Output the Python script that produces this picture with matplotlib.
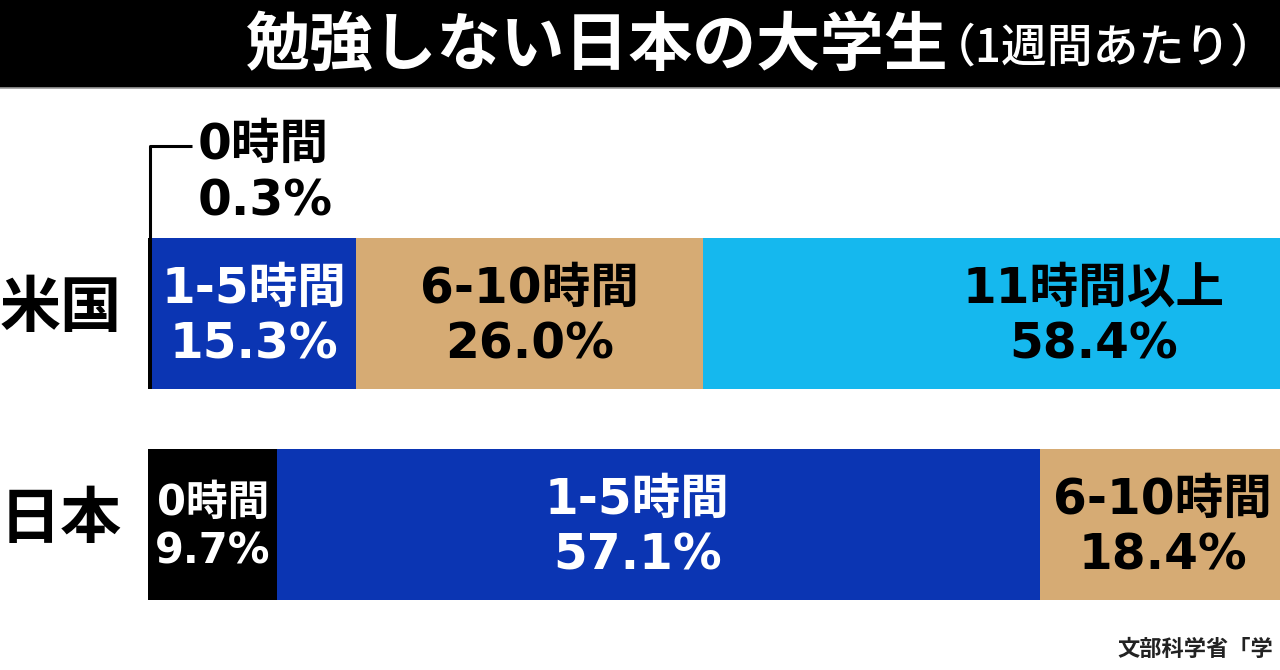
import matplotlib
matplotlib.use("Agg")
import matplotlib.pyplot as plt
from matplotlib.patches import Rectangle
import matplotlib.transforms as mtransforms

plt.rcParams['font.family'] = ['Noto Sans CJK JP', 'DejaVu Sans']
LABEL_FONT = ['DejaVu Sans', 'Noto Sans CJK JP']

# ---- data ----
countries = ["米国", "日本"]
categories = ["0時間", "1-5時間", "6-10時間", "11時間以上"]
us_values = [0.3, 15.3, 26.0, 58.4]
jp_values = [9.7, 57.1, 18.4, 14.8]
title_main = "勉強しない日本の大学生"
title_sub = "（1週間あたり）"
source = "文部科学省「学"

colors = ["#000000", "#0b35b3", "#d6ab74", "#15b8ee"]
text_colors = ["white", "white", "black", "black"]

W, H = 1280, 670
fig = plt.figure(figsize=(W / 100, H / 100), dpi=100)
fig.patch.set_facecolor("white")

# title bar
title_h = 88
fig.patches.append(Rectangle((0, 1 - title_h / H), 1, title_h / H,
                             transform=fig.transFigure, facecolor="black",
                             edgecolor="none", zorder=0))
fig.add_artist(plt.Line2D([0, 1], [1 - title_h / H] * 2, transform=fig.transFigure,
                          color="#9a9a9a", lw=1.2))
fig.text(246 / W, 1 - 46 / H, title_main, color="white", fontsize=46,
         fontweight="bold", ha="left", va="center")
fig.text(930 / W, 1 - 48 / H, title_sub, color="white", fontsize=33,
         fontweight="medium", ha="left", va="center")

# bars axes
left_px = 148
ax = fig.add_axes([left_px / W, 0, (W - left_px) / W, (H - title_h) / H])
ax.set_xlim(0, (W - left_px) / 13.35)
ax.set_ylim(1.69, -1.069)
ax.axis("off")

bar_h = 0.716
ypos = [0, 1]
# small horizontal nudges of in-bar labels (data units), as in the source graphic
nudges = {(1, 1): -1.6}
for yi, vals in zip(ypos, [us_values, jp_values]):
    left = 0.0
    for i, v in enumerate(vals):
        ax.barh(yi, v, left=left, height=bar_h, color=colors[i], edgecolor="none")
        cx = left + v / 2 + nudges.get((yi, i), 0.0)
        if i > 0 or yi == 1:
            if cx < ax.get_xlim()[1]:
                fs = 35 if not (yi == 1 and i == 0) else 30
                ax.text(cx, yi + 0.015, f"{categories[i]}\n{v:.1f}%", ha="center",
                        va="center", color=text_colors[i], fontsize=fs,
                        fontweight="bold", linespacing=1.2, family=LABEL_FONT)
        left += v

# small US 0-hour label with bracket
x_line = us_values[0] / 2
y_top = ypos[0] - bar_h / 2
y_lab = -0.795
ax.plot([x_line, x_line, 3.3], [y_top, y_lab, y_lab], color="black", lw=2.2,
        solid_capstyle="butt", clip_on=False)
ax.text(3.75, y_lab + 0.13, f"{categories[0]}\n{us_values[0]:.1f}%", ha="left",
        va="center", color="black", fontsize=35, fontweight="bold",
        linespacing=1.2, family=LABEL_FONT)

# country labels
trans = mtransforms.blended_transform_factory(fig.transFigure, ax.transData)
for yi, c in zip(ypos, countries):
    ax.text(0 / W, yi - 0.02, c, transform=trans, ha="left", va="center",
            fontsize=44, fontweight="bold", color="black", clip_on=False)

# source
fig.text(1117 / W, 1 - 650 / H, source, ha="left", va="center", fontsize=16,
         fontweight="bold", color="#222222")

fig.savefig("out.png", dpi=100, facecolor="white")
